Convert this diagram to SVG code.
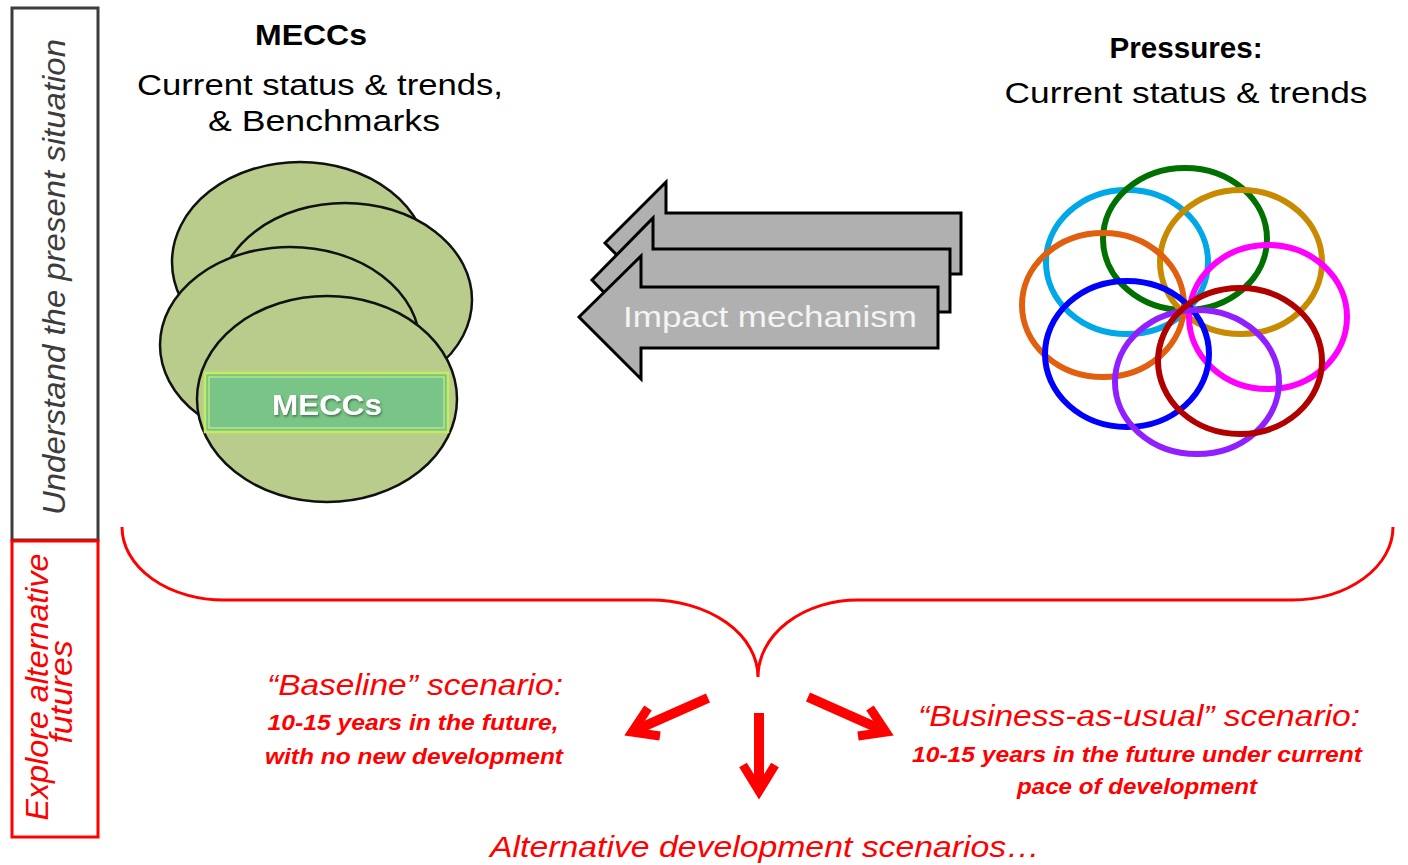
<svg xmlns="http://www.w3.org/2000/svg" width="1408" height="865" viewBox="0 0 1408 865">
  <defs>
    <style>
      .side { font-family: "Liberation Sans", Arial, sans-serif; font-style: italic; font-size: 32px; }
      .head { font-family: "Liberation Sans", Arial, sans-serif; font-size: 30px; fill: #000; text-anchor: middle; }
      .red { font-family: "Liberation Sans", Arial, sans-serif; font-style: italic; fill: #ff0000; text-anchor: middle; }
      .meccs-ell { fill: #b9cc8c; stroke: #111; stroke-width: 2.5; }
      .impact { fill: #b0b0b0; stroke: #000; stroke-width: 3; stroke-linejoin: miter; }
      .ring { fill: none; stroke-width: 6; }
      .redline { fill: none; stroke: #ff0000; stroke-width: 10; }
      .redhead { fill: none; stroke: #ff0000; stroke-width: 9; stroke-linejoin: miter; stroke-miterlimit: 10; }
    </style>
    <filter id="shadow" x="-20%" y="-20%" width="140%" height="140%">
      <feDropShadow dx="1" dy="1.5" stdDeviation="0.8" flood-color="#2e5a35" flood-opacity="0.8"/>
    </filter>
  </defs>

  <rect width="1408" height="865" fill="#ffffff"/>

  <!-- side labels -->
  <g id="present-box">
    <rect x="12" y="8" width="86" height="532" fill="none" stroke="#3c3c3c" stroke-width="3"/>
    <text class="side" fill="#3c3c3c" text-anchor="middle" transform="translate(65,277) rotate(-90)" textLength="476" lengthAdjust="spacingAndGlyphs">Understand the present  situation</text>
  </g>
  <g id="futures-box">
    <rect x="12" y="541" width="86" height="296" fill="none" stroke="#ff0000" stroke-width="3"/>
    <text class="side" fill="#ff0000" text-anchor="middle" transform="translate(48,687) rotate(-90)" textLength="267" lengthAdjust="spacingAndGlyphs">Explore alternative</text>
    <text class="side" fill="#ff0000" text-anchor="middle" transform="translate(72,692) rotate(-90)" textLength="103" lengthAdjust="spacingAndGlyphs">futures</text>
  </g>

  <!-- MECCs node -->
  <g id="meccs">
    <text class="head" x="311" y="45" font-weight="bold" textLength="112" lengthAdjust="spacingAndGlyphs">MECCs</text>
    <text class="head" x="320" y="95" textLength="366" lengthAdjust="spacingAndGlyphs">Current status &amp; trends,</text>
    <text class="head" x="324" y="131" textLength="232" lengthAdjust="spacingAndGlyphs">&amp; Benchmarks</text>
    <ellipse class="meccs-ell" cx="300" cy="262" rx="128" ry="100"/>
    <ellipse class="meccs-ell" cx="345" cy="300" rx="127" ry="97"/>
    <ellipse class="meccs-ell" cx="290" cy="345" rx="130" ry="98"/>
    <ellipse class="meccs-ell" cx="327" cy="399" rx="130" ry="103"/>
    <rect x="205" y="373" width="243" height="59" fill="#78c587" stroke="#c4ec5c" stroke-width="2.5"/>
    <rect x="209" y="377" width="235" height="51" fill="none" stroke="#d6f48a" stroke-width="1"/>
    <text x="327" y="415" font-family="Liberation Sans, Arial, sans-serif" font-weight="bold" font-size="29" fill="#ffffff" text-anchor="middle" textLength="110" lengthAdjust="spacingAndGlyphs" filter="url(#shadow)">MECCs</text>
  </g>

  <!-- Pressures node -->
  <g id="pressures">
    <text class="head" x="1186" y="58" font-weight="bold" font-size="28" textLength="153" lengthAdjust="spacingAndGlyphs">Pressures:</text>
    <text class="head" x="1186" y="103" textLength="363" lengthAdjust="spacingAndGlyphs">Current status &amp; trends</text>
    <ellipse class="ring" stroke="#00a8e8" cx="1127" cy="262" rx="81" ry="72"/>
    <ellipse class="ring" stroke="#007000" cx="1185" cy="239" rx="82" ry="71"/>
    <ellipse class="ring" stroke="#c88a00" cx="1241" cy="262" rx="81" ry="72"/>
    <ellipse class="ring" stroke="#ff00ff" cx="1268" cy="317" rx="79" ry="72"/>
    <ellipse class="ring" stroke="#e06010" cx="1103" cy="305" rx="81" ry="72"/>
    <ellipse class="ring" stroke="#0000ff" cx="1127" cy="354" rx="82" ry="73"/>
    <ellipse class="ring" stroke="#9020ff" cx="1197" cy="382" rx="82" ry="72"/>
    <ellipse class="ring" stroke="#b00000" cx="1240" cy="361" rx="82" ry="73"/>
  </g>

  <!-- scenario labels -->
  <g id="baseline">
    <text class="red" x="415" y="695" font-size="30" textLength="296" lengthAdjust="spacingAndGlyphs">“Baseline” scenario:</text>
    <text class="red" x="413" y="730" font-size="22" font-weight="bold" textLength="291" lengthAdjust="spacingAndGlyphs">10-15 years in the future,</text>
    <text class="red" x="414" y="764" font-size="22" font-weight="bold" textLength="298" lengthAdjust="spacingAndGlyphs">with  no new development</text>
  </g>
  <g id="business">
    <text class="red" x="1139" y="726" font-size="30" textLength="442" lengthAdjust="spacingAndGlyphs">“Business-as-usual” scenario:</text>
    <text class="red" x="1137" y="762" font-size="22" font-weight="bold" textLength="450" lengthAdjust="spacingAndGlyphs">10-15 years in the future under current</text>
    <text class="red" x="1137" y="794" font-size="22" font-weight="bold" textLength="240" lengthAdjust="spacingAndGlyphs">pace of development</text>
  </g>
  <g id="alternative">
    <text class="red" x="765" y="857" font-size="30" textLength="550" lengthAdjust="spacingAndGlyphs">Alternative development  scenarios…</text>
  </g>

  <!-- connectors -->
  <g id="connectors">
    <polygon class="impact" points="605,243 666,182 666,213 961,213 961,274 666,274 666,305"/>
    <polygon class="impact" points="592,280 653,218 653,249 950,249 950,312 653,312 653,343"/>
    <polygon class="impact" points="579,317 641,256 641,287 938,287 938,348 641,348 641,379"/>
    <text x="770" y="327" font-family="Liberation Sans, Arial, sans-serif" font-size="30" fill="#f4f4f4" text-anchor="middle" textLength="294" lengthAdjust="spacingAndGlyphs">Impact mechanism</text>

    <path d="M122,527 A102,73 0 0 0 225,600 L650,600 A108,77 0 0 1 758,677 A100,77 0 0 1 858,600 L1292,600 A101,73 0 0 0 1393,527" fill="none" stroke="#ff0000" stroke-width="3"/>

    <line class="redline" x1="708" y1="698" x2="638" y2="729"/>
    <polyline class="redhead" points="648,708 632,732 660,736"/>
    <line class="redline" x1="808" y1="697" x2="880" y2="729"/>
    <polyline class="redhead" points="870,708 886,732 858,736"/>
    <line class="redline" x1="759" y1="713" x2="759" y2="790"/>
    <polyline class="redhead" points="743,765 759,791 775,765"/>
  </g>
</svg>
